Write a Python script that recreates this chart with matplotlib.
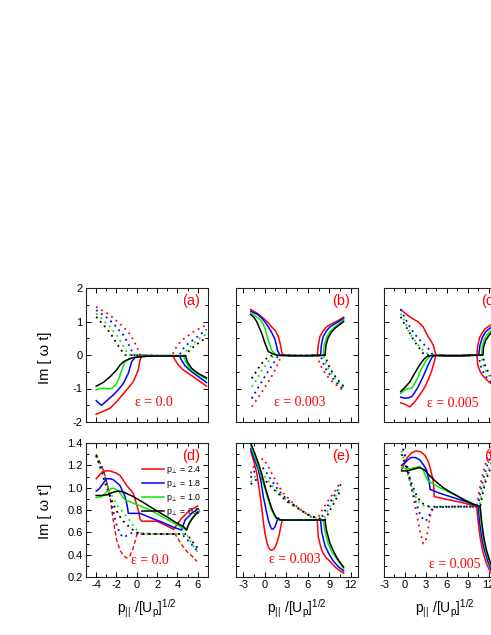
import matplotlib
matplotlib.use('Agg')
import matplotlib.pyplot as plt
from matplotlib.ticker import MultipleLocator, FormatStrFormatter

plt.rcParams['font.family'] = ['Liberation Sans', 'DejaVu Sans']
plt.rcParams['mathtext.fontset'] = 'custom'
plt.rcParams['mathtext.rm'] = 'Liberation Sans'
plt.rcParams['mathtext.it'] = 'Liberation Sans'
plt.rcParams['mathtext.default'] = 'regular'
plt.rcParams['axes.unicode_minus'] = False

# ---------------- data ----------------
p_perp_labels = ['2.4', '1.8', '1.0', '0.0']
colors = ['#ff0000', '#0000ff', '#00ee00', '#000000']
panel_tags = ['(a)', '(b)', '(c)', '(d)', '(e)', '(f)']
eps_labels = ['0.0', '0.003', '0.005', '0.0', '0.003', '0.005']

# panel (a): solid and dotted branches (order: p_perp 2.4, 1.8, 1.0, 0.0)
a_solid_x = [
    [-4, -3.3, -2.64, -1.98, -1.0, -0.35, 0.14, 0.31, 0.48, 1.0, 2.0, 3.0, 3.55, 3.76, 4.09, 4.58, 5.56, 6.85],
    [-4, -3.7, -3.46, -2.9, -2.31, -1.8, -1.33, -0.84, -0.51, -0.18, 0.3, 2.0, 4.2, 4.40, 4.73, 5.39, 6.85],
    [-4, -3.6, -3.3, -2.9, -2.64, -2.3, -1.98, -1.7, -1.49, -1.16, -0.67, 0.3, 2.0, 4.6, 4.8, 5.2, 5.9, 6.85],
    [-4, -3.3, -2.64, -2.0, -1.66, -1.3, -1.0, -0.35, 0.63, 2.0, 4.8, 4.96, 5.4, 6.05, 6.85]]
a_solid_y = [
    [-1.77, -1.68, -1.59, -1.39, -1.04, -0.80, -0.45, -0.15, -0.05, -0.04, -0.03, -0.03, -0.03, -0.15, -0.30, -0.45, -0.65, -0.93],
    [-1.36, -1.45, -1.50, -1.35, -1.19, -1.03, -0.85, -0.55, -0.20, -0.08, -0.04, -0.03, -0.03, -0.15, -0.32, -0.50, -0.82],
    [-1.04, -1.00, -0.99, -1.01, -1.01, -0.96, -0.85, -0.65, -0.45, -0.20, -0.10, -0.04, -0.03, -0.03, -0.20, -0.40, -0.55, -0.72],
    [-0.93, -0.82, -0.65, -0.45, -0.30, -0.20, -0.15, -0.08, -0.04, -0.03, -0.03, -0.20, -0.40, -0.55, -0.68]]
a_dot_x = [
    [-4, -3.3, -2.64, -2.0, -1.33, -0.67, -0.35, 0.0, 0.31, 2.0, 3.5, 3.7, 4.1, 4.6, 5.5, 6.85],
    [-4, -3.3, -2.64, -2.0, -1.33, -0.67, -0.35, 2.0, 4.2, 4.4, 4.8, 5.4, 6.1, 6.85],
    [-4, -3.3, -2.64, -2.1, -1.66, -1.2, -0.84, 2.0, 4.6, 4.8, 5.2, 5.7, 6.3, 6.85],
    [-4, -3.5, -2.97, -2.5, -1.98, -1.5, -1.16, 2.0, 4.8, 5.0, 5.4, 5.9, 6.4, 6.85]]
a_dot_y = [
    [1.44, 1.31, 1.19, 1.02, 0.84, 0.62, 0.45, 0.25, 0.0, -0.02, -0.02, 0.15, 0.33, 0.48, 0.68, 0.90],
    [1.34, 1.19, 1.04, 0.83, 0.60, 0.24, 0.0, -0.02, -0.02, 0.12, 0.28, 0.42, 0.58, 0.76],
    [1.24, 1.04, 0.84, 0.63, 0.45, 0.20, 0.0, -0.02, -0.02, 0.10, 0.24, 0.38, 0.52, 0.62],
    [1.14, 0.97, 0.79, 0.60, 0.35, 0.13, 0.0, -0.02, -0.02, 0.08, 0.20, 0.32, 0.43, 0.50]]

# panel (b)
b_solid_x = [
    [-1.95, -1.0, -0.2, 0.5, 0.97, 1.5, 1.9, 2.2, 2.36, 2.6, 4.0, 6.0, 7.32, 7.46, 7.69, 8.15, 8.6, 9.3, 10.0, 11.0],
    [-1.95, -1.0, -0.4, 0.1, 0.5, 1.0, 1.46, 1.8, 2.15, 4.0, 6.0, 7.78, 7.9, 8.15, 8.6, 9.1, 10.0, 11.0],
    [-1.95, -1.2, -0.6, -0.2, 0.04, 0.5, 0.97, 1.46, 2.0, 4.0, 6.0, 8.15, 8.3, 8.6, 9.1, 9.6, 10.3, 11.0],
    [-1.95, -1.5, -1.12, -0.42, 0.04, 0.5, 1.2, 1.8, 4.0, 6.0, 8.4, 8.55, 8.85, 9.3, 9.8, 10.4, 11.0]]
b_solid_y = [
    [1.36, 1.24, 1.10, 0.96, 0.84, 0.72, 0.55, 0.30, 0.10, -0.01, -0.02, -0.02, -0.01, 0.28, 0.55, 0.72, 0.84, 0.93, 1.00, 1.13],
    [1.31, 1.21, 1.10, 0.97, 0.84, 0.66, 0.45, 0.12, 0.0, -0.02, -0.02, -0.01, 0.30, 0.55, 0.72, 0.84, 0.96, 1.09],
    [1.26, 1.15, 1.05, 0.92, 0.79, 0.45, 0.14, 0.03, -0.01, -0.02, -0.02, -0.01, 0.30, 0.52, 0.70, 0.81, 0.92, 1.05],
    [1.21, 1.12, 1.00, 0.65, 0.35, 0.10, 0.03, -0.01, -0.02, -0.02, -0.01, 0.30, 0.52, 0.68, 0.80, 0.90, 1.00]]
b_dot_x = [
    [-1.8, -1.0, -0.2, 0.5, 1.2, 1.8, 2.36, 4.0, 6.0, 7.32, 7.6, 8.1, 8.8, 9.6, 10.4, 11.0],
    [-1.8, -1.0, -0.2, 0.6, 1.2, 1.8, 2.1, 4.0, 6.0, 7.78, 8.1, 8.6, 9.3, 10.0, 10.6, 11.0],
    [-1.8, -1.0, -0.4, 0.3, 0.9, 1.46, 4.0, 6.0, 8.15, 8.45, 8.9, 9.5, 10.1, 10.6, 11.0],
    [-1.8, -1.2, -0.6, 0.0, 0.6, 1.2, 4.0, 6.0, 8.4, 8.7, 9.1, 9.7, 10.2, 10.7, 11.0]]
b_dot_y = [
    [-1.54, -1.30, -1.04, -0.80, -0.55, -0.28, 0.0, -0.02, -0.02, 0.0, -0.22, -0.45, -0.65, -0.83, -0.97, -1.08],
    [-1.30, -1.00, -0.72, -0.45, -0.25, -0.05, 0.0, -0.02, -0.02, 0.0, -0.22, -0.45, -0.65, -0.82, -0.95, -1.03],
    [-0.95, -0.70, -0.45, -0.25, -0.08, 0.0, -0.02, -0.02, 0.0, -0.20, -0.42, -0.62, -0.78, -0.90, -0.98],
    [-0.70, -0.50, -0.30, -0.15, -0.04, 0.0, -0.02, -0.02, 0.0, -0.20, -0.40, -0.60, -0.75, -0.87, -0.93]]

# panel (c): lower-left + plateau + upper-right (first set), upper-left + plateau + lower-right (second set)
c_solid_x = [
    [-0.6, 0.0, 0.71, 1.4, 2.14, 2.8, 3.33, 3.8, 4.2, 4.43, 6.0, 8.0, 10.33, 10.45, 10.71, 11.43, 12.14, 12.8],
    [-0.6, 0.0, 0.5, 1.0, 1.4, 1.9, 2.62, 3.33, 3.8, 4.14, 6.0, 8.0, 10.6, 10.75, 11.1, 11.6, 12.2, 12.9],
    [-0.6, 0.0, 0.5, 1.0, 1.67, 2.4, 3.1, 3.5, 3.8, 6.0, 8.0, 11.0, 11.1, 11.4, 11.9, 12.5, 13.0],
    [-0.6, 0.0, 0.71, 1.2, 1.67, 2.2, 2.62, 3.0, 3.33, 3.8, 6.0, 8.0, 11.2, 11.3, 11.6, 12.1, 12.6, 13.0]]
c_solid_y = [
    [-1.43, -1.47, -1.55, -1.40, -1.19, -0.98, -0.75, -0.50, -0.22, 0.0, -0.02, -0.02, 0.0, 0.28, 0.52, 0.77, 0.87, 0.95],
    [-1.26, -1.29, -1.28, -1.24, -1.12, -0.95, -0.64, -0.30, -0.10, 0.0, -0.02, -0.02, 0.0, 0.28, 0.52, 0.70, 0.80, 0.88],
    [-1.14, -1.04, -1.00, -0.99, -0.75, -0.40, -0.15, -0.05, 0.0, -0.02, -0.02, 0.0, 0.27, 0.47, 0.64, 0.76, 0.83],
    [-1.09, -0.97, -0.80, -0.62, -0.45, -0.27, -0.15, -0.07, -0.03, -0.02, -0.02, -0.02, 0.0, 0.25, 0.44, 0.60, 0.71, 0.78]]
c_dot_x = [
    [-0.6, 0.0, 0.71, 1.3, 1.9, 2.62, 3.33, 3.8, 4.14, 4.43, 6.0, 8.0, 10.33, 10.45, 10.8, 11.19, 11.7, 12.14, 12.8],
    [-0.6, 0.0, 0.71, 1.4, 2.14, 2.8, 3.33, 3.7, 4.0, 6.0, 8.0, 10.6, 10.8, 11.2, 11.7, 12.3, 12.9],
    [-0.6, 0.0, 0.48, 1.0, 1.67, 2.3, 2.86, 3.3, 3.6, 6.0, 8.0, 11.0, 11.2, 11.6, 12.1, 12.6, 13.0],
    [-0.6, 0.0, 0.71, 1.3, 1.9, 2.4, 2.86, 6.0, 8.0, 11.2, 11.4, 11.8, 12.3, 12.8, 13.0]]
c_dot_y = [
    [1.36, 1.25, 1.14, 1.06, 0.99, 0.84, 0.55, 0.40, 0.25, 0.0, -0.02, -0.02, 0.0, -0.30, -0.50, -0.62, -0.73, -0.82, -0.92],
    [1.36, 1.10, 0.84, 0.62, 0.45, 0.30, 0.20, 0.10, 0.0, -0.02, -0.02, 0.0, -0.28, -0.50, -0.66, -0.78, -0.88],
    [1.24, 0.98, 0.74, 0.56, 0.35, 0.20, 0.10, 0.03, 0.0, -0.02, -0.02, 0.0, -0.28, -0.48, -0.63, -0.74, -0.80],
    [1.14, 0.90, 0.65, 0.43, 0.25, 0.10, 0.0, -0.02, -0.02, 0.0, -0.26, -0.45, -0.60, -0.70, -0.74]]

# panel (d)
d_solid_x = [
    [-4, -3.6, -3.3, -2.64, -2.0, -1.66, -1.0, -0.35, 0.14, 0.31, 0.48, 1.0, 1.95, 2.8, 3.6, 3.75, 4.0, 4.41, 5.07, 5.5, 5.98],
    [-4, -3.7, -3.46, -2.97, -2.6, -2.3, -1.66, -1.16, -0.95, -0.84, 0.31, 1.5, 2.5, 3.5, 4.41, 4.74, 5.4, 5.98],
    [-4, -3.46, -2.97, -2.6, -2.3, -1.8, -1.5, -1.16, -0.3, 0.5, 1.29, 2.5, 3.5, 4.3, 4.9, 5.1, 5.4, 5.7, 5.98],
    [-4, -3.5, -2.97, -2.3, -1.8, -1.3, -0.35, 0.5, 1.29, 2.0, 2.94, 3.8, 4.6, 4.9, 5.0, 5.2, 5.5, 5.8, 5.98]]
d_solid_y = [
    [1.08, 1.12, 1.15, 1.15, 1.13, 1.11, 1.02, 0.95, 0.80, 0.72, 0.70, 0.70, 0.70, 0.665, 0.627, 0.64, 0.68, 0.726, 0.785, 0.81, 0.836],
    [0.97, 0.99, 1.02, 1.08, 1.08, 1.07, 1.02, 0.92, 0.84, 0.77, 0.77, 0.725, 0.69, 0.65, 0.62, 0.71, 0.77, 0.81],
    [0.91, 0.92, 0.96, 0.99, 0.995, 0.97, 0.93, 0.89, 0.86, 0.83, 0.80, 0.74, 0.69, 0.65, 0.62, 0.67, 0.72, 0.755, 0.785],
    [0.93, 0.93, 0.935, 0.96, 0.97, 0.96, 0.92, 0.875, 0.83, 0.79, 0.74, 0.69, 0.65, 0.62, 0.65, 0.69, 0.73, 0.76, 0.78]]
d_dot_x = [
    [-4, -3.6, -3.3, -2.97, -2.64, -2.31, -1.98, -1.66, -1.3, -1.0, -0.67, -0.35, 0.0, 1.0, 2.0, 3.0, 3.75, 4.0, 4.4, 4.9, 5.4, 5.9],
    [-4, -3.6, -3.3, -2.97, -2.64, -2.3, -1.98, -1.6, -1.3, -1.0, -0.67, -0.3, 0.3, 2.0, 4.41, 4.8, 5.3, 5.8, 5.98],
    [-4, -3.6, -3.3, -2.97, -2.64, -2.3, -1.98, -1.66, -1.33, -1.0, -0.5, 0.0, 0.5, 2.0, 4.9, 5.2, 5.6, 5.98],
    [-4, -3.6, -3.3, -2.97, -2.64, -2.3, -1.98, -1.66, -1.33, -1.0, -0.5, 0.0, 0.5, 2.0, 4.9, 5.2, 5.6, 5.98]]
d_dot_y = [
    [1.30, 1.22, 1.16, 1.05, 0.92, 0.70, 0.53, 0.44, 0.39, 0.37, 0.39, 0.46, 0.58, 0.585, 0.585, 0.585, 0.585, 0.55, 0.49, 0.43, 0.39, 0.34],
    [1.29, 1.21, 1.15, 1.05, 0.92, 0.78, 0.66, 0.58, 0.555, 0.57, 0.59, 0.60, 0.59, 0.585, 0.585, 0.55, 0.50, 0.45, 0.43],
    [1.28, 1.19, 1.11, 1.03, 0.96, 0.90, 0.85, 0.81, 0.78, 0.74, 0.68, 0.62, 0.59, 0.585, 0.585, 0.53, 0.47, 0.42],
    [1.29, 1.18, 1.09, 1.00, 0.92, 0.85, 0.79, 0.74, 0.70, 0.67, 0.63, 0.60, 0.585, 0.585, 0.585, 0.55, 0.50, 0.46]]

# panel (e)
e_solid_x = [
    [-1.95, -1.5, -1.1, -0.75, -0.43, -0.2, 0.04, 0.3, 0.5, 0.75, 0.97, 1.3, 1.67, 1.95, 2.15, 2.3, 2.45, 4.0, 6.0, 7.32, 7.46, 7.8, 8.15, 8.6, 9.1, 9.8, 10.5, 11.0],
    [-1.95, -1.4, -0.89, -0.5, -0.2, 0.2, 0.5, 0.75, 0.97, 1.2, 1.43, 1.7, 1.9, 2.1, 4.0, 6.0, 7.78, 7.95, 8.4, 9.0, 9.6, 10.3, 11.0],
    [-1.95, -1.45, -0.95, -0.45, 0.0, 0.45, 0.9, 1.35, 1.6, 2.0, 2.3, 4.0, 6.0, 8.15, 8.35, 8.85, 9.4, 10.0, 10.5, 11.0],
    [-1.95, -1.4, -0.89, -0.4, 0.04, 0.5, 0.97, 1.4, 1.67, 2.0, 2.36, 4.0, 6.0, 8.4, 8.6, 9.1, 9.6, 10.0, 10.5, 11.0]]
e_solid_y = [
    [1.33, 1.23, 1.13, 0.98, 0.83, 0.70, 0.59, 0.51, 0.47, 0.445, 0.44, 0.45, 0.50, 0.56, 0.62, 0.67, 0.71, 0.71, 0.71, 0.71, 0.56, 0.47, 0.41, 0.37, 0.34, 0.29, 0.255, 0.235],
    [1.35, 1.25, 1.16, 1.05, 0.92, 0.80, 0.71, 0.66, 0.63, 0.63, 0.65, 0.70, 0.73, 0.71, 0.71, 0.71, 0.71, 0.60, 0.48, 0.40, 0.34, 0.29, 0.255],
    [1.38, 1.29, 1.20, 1.10, 1.00, 0.90, 0.81, 0.75, 0.725, 0.715, 0.71, 0.71, 0.71, 0.71, 0.62, 0.50, 0.42, 0.365, 0.32, 0.275],
    [1.40, 1.31, 1.22, 1.12, 1.01, 0.91, 0.815, 0.755, 0.726, 0.715, 0.71, 0.71, 0.71, 0.71, 0.62, 0.50, 0.43, 0.38, 0.33, 0.29]]
e_dot_x = [
    [-1.95, -1.5, -0.89, -0.2, 0.5, 1.2, 2.0, 2.6, 3.5, 4.5, 5.5, 6.3, 7.0, 7.32, 7.6, 8.1, 8.6, 9.1, 9.6, 10.1, 10.6],
    [-1.95, -1.5, -0.89, -0.4, 0.2, 1.0, 2.0, 3.0, 4.0, 5.0, 6.0, 7.0, 7.78, 8.2, 8.7, 9.2, 9.7, 10.2, 10.6],
    [-1.95, -1.5, -0.89, -0.3, 0.3, 1.0, 2.0, 3.0, 4.0, 5.0, 6.0, 7.0, 8.15, 8.5, 9.0, 9.5, 10.0, 10.6],
    [-1.95, -1.5, -0.89, -0.3, 0.3, 1.0, 2.0, 3.0, 4.0, 5.0, 6.0, 7.0, 8.4, 8.8, 9.3, 9.8, 10.2, 10.6]]
e_dot_y = [
    [1.13, 1.19, 1.24, 1.26, 1.19, 1.10, 1.01, 0.95, 0.89, 0.83, 0.78, 0.745, 0.72, 0.71, 0.75, 0.81, 0.86, 0.91, 0.95, 1.00, 1.06],
    [1.09, 1.14, 1.18, 1.19, 1.14, 1.06, 0.97, 0.90, 0.85, 0.80, 0.76, 0.73, 0.71, 0.77, 0.83, 0.88, 0.93, 0.98, 1.03],
    [1.05, 1.09, 1.12, 1.12, 1.08, 1.02, 0.95, 0.89, 0.84, 0.80, 0.76, 0.735, 0.71, 0.76, 0.82, 0.88, 0.94, 1.01],
    [1.03, 1.06, 1.08, 1.08, 1.05, 1.00, 0.94, 0.88, 0.84, 0.80, 0.76, 0.735, 0.71, 0.76, 0.82, 0.88, 0.93, 0.98]]

# panel (f)
f_solid_x = [
    [-0.47, 0.24, 0.9, 1.67, 2.3, 2.86, 3.3, 3.57, 3.8, 4.04, 4.15, 4.2, 6.0, 8.0, 10.3, 10.5, 10.8, 11.2, 11.7, 12.3],
    [-0.47, 0.24, 0.9, 1.5, 2.1, 2.6, 3.1, 3.4, 3.55, 3.6, 5.0, 7.0, 9.0, 10.5, 10.7, 11.0, 11.4, 11.9, 12.4],
    [-0.47, 0.24, 0.9, 1.5, 2.1, 2.6, 3.0, 3.33, 5.0, 7.0, 9.0, 10.7, 10.9, 11.2, 11.6, 12.1, 12.6],
    [-0.47, 0.24, 0.9, 1.5, 2.1, 2.8, 3.5, 4.52, 5.5, 6.5, 7.4, 8.5, 9.5, 10.8, 11.0, 11.3, 11.7, 12.2, 12.7]]
f_solid_y = [
    [1.16, 1.26, 1.31, 1.33, 1.32, 1.29, 1.24, 1.19, 1.13, 1.07, 1.00, 0.92, 0.895, 0.87, 0.83, 0.70, 0.55, 0.42, 0.32, 0.24],
    [1.20, 1.24, 1.27, 1.27, 1.25, 1.21, 1.16, 1.08, 1.02, 0.985, 0.95, 0.91, 0.87, 0.83, 0.70, 0.56, 0.44, 0.34, 0.26],
    [1.18, 1.17, 1.17, 1.18, 1.19, 1.16, 1.10, 1.06, 1.00, 0.94, 0.88, 0.83, 0.70, 0.56, 0.44, 0.34, 0.26],
    [1.15, 1.15, 1.16, 1.17, 1.18, 1.16, 1.11, 1.05, 1.00, 0.96, 0.93, 0.89, 0.86, 0.83, 0.70, 0.56, 0.44, 0.34, 0.26]]
f_dot_x = [
    [-0.47, 0.0, 0.5, 1.0, 1.67, 2.2, 2.62, 3.0, 3.3, 3.6, 4.0, 4.5, 7.0, 10.3, 10.6, 11.0, 11.5, 12.0, 12.5],
    [-0.47, 0.0, 0.5, 1.0, 1.67, 2.3, 3.0, 3.4, 3.8, 4.2, 7.0, 10.5, 10.8, 11.2, 11.7, 12.2, 12.6],
    [-0.47, 0.0, 0.5, 1.0, 1.67, 2.3, 3.0, 3.6, 7.0, 10.7, 11.0, 11.4, 11.9, 12.4, 12.8],
    [-0.47, 0.0, 0.5, 1.0, 1.67, 2.3, 3.0, 3.6, 7.0, 10.8, 11.1, 11.5, 12.0, 12.5, 12.9]]
f_dot_y = [
    [1.40, 1.30, 1.15, 0.98, 0.77, 0.60, 0.50, 0.53, 0.62, 0.74, 0.81, 0.825, 0.83, 0.83, 0.95, 1.08, 1.20, 1.30, 1.38],
    [1.40, 1.28, 1.12, 0.98, 0.85, 0.74, 0.70, 0.74, 0.80, 0.825, 0.83, 0.83, 0.95, 1.07, 1.18, 1.27, 1.33],
    [1.33, 1.22, 1.10, 1.00, 0.90, 0.85, 0.83, 0.825, 0.83, 0.83, 0.94, 1.05, 1.15, 1.23, 1.29],
    [1.30, 1.22, 1.12, 1.03, 0.93, 0.87, 0.84, 0.83, 0.83, 0.83, 0.93, 1.04, 1.13, 1.21, 1.26]]

solids_x = [a_solid_x, b_solid_x, c_solid_x, d_solid_x, e_solid_x, f_solid_x]
solids_y = [a_solid_y, b_solid_y, c_solid_y, d_solid_y, e_solid_y, f_solid_y]
dots_x = [a_dot_x, b_dot_x, c_dot_x, d_dot_x, e_dot_x, f_dot_x]
dots_y = [a_dot_y, b_dot_y, c_dot_y, d_dot_y, e_dot_y, f_dot_y]

# ---------------- layout ----------------
W, H = 491.0, 635.0
fig = plt.figure(figsize=(W / 100, H / 100), dpi=100)
lefts = [86, 236, 384]
tops = [288, 443]
AW, AH = 122, 134
xlims = [(-5, 7), (-4, 13), (-3, 14.5)]
xmajor = [2, 3, 3]
xminor = [1, 1.5, 1.5]
eps_pos = [(0.553, 0.145), (0.522, 0.147), (0.561, 0.14),
           (0.525, 0.12), (0.481, 0.132), (0.576, 0.09)]
DOT = (0, (1, 2.3))

for k in range(6):
    r, c = divmod(k, 3)
    ax = fig.add_axes([lefts[c] / W, 1 - (tops[r] + AH) / H, AW / W, AH / H])
    ax.set_xlim(*xlims[c])
    if r == 0:
        ax.set_ylim(-2, 2)
        ax.yaxis.set_major_locator(MultipleLocator(1))
        ax.yaxis.set_minor_locator(MultipleLocator(0.5))
        ax.yaxis.set_major_formatter(FormatStrFormatter('%d'))
    else:
        ax.set_ylim(0.2, 1.4)
        ax.yaxis.set_major_locator(MultipleLocator(0.2))
        ax.yaxis.set_minor_locator(MultipleLocator(0.1))
        ax.yaxis.set_major_formatter(FormatStrFormatter('%.1f'))
    ax.xaxis.set_major_locator(MultipleLocator(xmajor[c]))
    ax.xaxis.set_minor_locator(MultipleLocator(xminor[c]))
    ax.tick_params(which='both', direction='in', top=True, right=True,
                   labelsize=8, width=0.7, pad=2.5)
    ax.tick_params(which='major', length=3.5)
    ax.tick_params(which='minor', length=2)
    if c != 0:
        ax.tick_params(labelleft=False)
    if r == 0:
        ax.tick_params(labelbottom=False)
    else:
        ax.set_xlabel(r'p$_{||}$ /[U$_{\mathrm{p}}$]$^{1/2}$', fontsize=10, labelpad=5)
    for s in ax.spines.values():
        s.set_linewidth(0.8)
        s.set_color('#222222')

    # dotted / dashed branches
    for i in range(4):
        if k == 2 and i == 0:
            ls, lw = '-', 1.1
        elif k == 3 and i == 0:
            ls, lw = (0, (3, 1.8)), 1.0
        else:
            ls, lw = DOT, 1.3
        ax.plot(dots_x[k][i], dots_y[k][i], color=colors[i], ls=ls, lw=lw,
                zorder=2 + i * 0.01)
    # solid branches
    for i in range(4):
        ax.plot(solids_x[k][i], solids_y[k][i], color=colors[i], lw=1.1,
                zorder=3 + i * 0.01,
                label=r'p$_{\perp}$ = ' + p_perp_labels[i])

    ax.text(0.935, 0.905, panel_tags[k], transform=ax.transAxes, color='#ff0000',
            fontsize=10.5, ha='right', va='center')
    ax.text(eps_pos[k][0], eps_pos[k][1], '\u03b5 = ' + eps_labels[k],
            transform=ax.transAxes, color='#ff0000', fontsize=10,
            family=['Liberation Serif', 'DejaVu Serif'], ha='center', va='center')
    if k == 3:
        ax.legend(loc='upper left', bbox_to_anchor=(0.455, 0.84), frameon=False,
                  fontsize=6.3, handlelength=2.6, handletextpad=0.25,
                  labelspacing=0.22, borderpad=0, borderaxespad=0)

fig.text(45 / W, 1 - 358 / H, 'Im [ \u03c9 t]', rotation=90, fontsize=10.5,
         ha='center', va='center')
fig.text(45 / W, 1 - 511 / H, "Im [ \u03c9 t']", rotation=90, fontsize=10.5,
         ha='center', va='center')

fig.savefig('out.png', dpi=100)
